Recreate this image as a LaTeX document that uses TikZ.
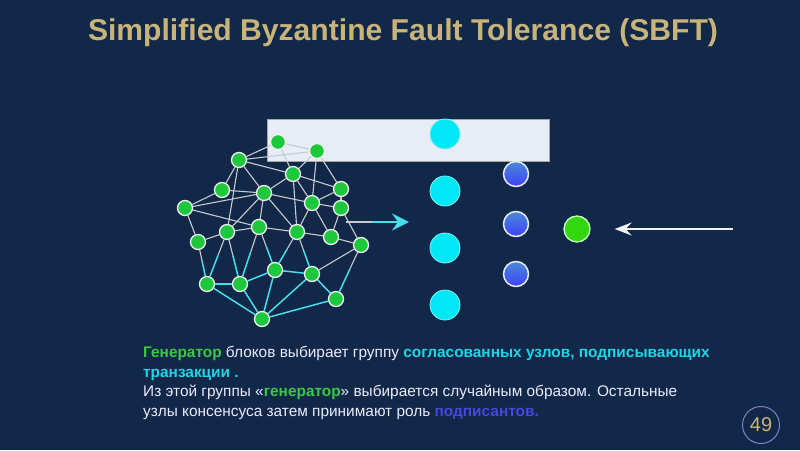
\documentclass[tikz,border=0pt]{standalone}
\usepackage{fontspec}
\setmainfont{Liberation Sans}
\usepackage{tikz}
\usetikzlibrary{arrows.meta,calc}
\definecolor{slidebg}{RGB}{17,40,72}
\definecolor{titletan}{RGB}{200,180,122}
\definecolor{peergreen}{RGB}{30,200,60}
\definecolor{linkgrey}{RGB}{200,202,208}
\definecolor{linkcyan}{RGB}{70,222,236}
\definecolor{nodecyan}{RGB}{0,232,246}
\definecolor{gengreen}{RGB}{52,214,12}
\definecolor{textgreen}{RGB}{60,200,70}
\definecolor{textcyan}{RGB}{30,214,232}
\definecolor{signblue}{RGB}{70,70,225}
\definecolor{signtop}{RGB}{72,140,215}
\definecolor{signbot}{RGB}{64,64,250}
\definecolor{boxfill}{RGB}{231,237,246}

\begin{document}
\begin{tikzpicture}[x=1pt,y=-1pt,
    peer/.style={circle, draw=white!88!gray, line width=1.3pt, fill=peergreen, minimum size=15pt, inner sep=0pt},
    link/.style={draw=linkgrey, line width=1.1pt},
    clink/.style={draw=linkcyan, line width=1.5pt},
    member/.style={circle, draw=nodecyan!50!white, line width=0.8pt, fill=nodecyan, minimum size=30pt, inner sep=0pt},
    signer/.style={circle, draw=white!92!blue, line width=1.5pt, top color=signtop, bottom color=signbot, minimum size=25pt, inner sep=0pt},
    leader/.style={circle, draw=white!80!green, line width=1.3pt, fill=gengreen, minimum size=26pt, inner sep=0pt},
    note/.style={align=left, text=white!92!blue, font=\fontsize{15.4}{19.5}\selectfont, inner sep=0pt}
]
    % Fond et cadre
    \fill[slidebg] (0,0) rectangle (800,450);
    \node[font=\bfseries\fontsize{30.1}{34}\selectfont, text=titletan] (title) at (403,33) {Simplified Byzantine Fault Tolerance (SBFT)};
    \filldraw[fill=boxfill, draw=gray!70, line width=0.8pt] (267,119) rectangle (549,161);

    % Réseau de pairs
    \node[peer] (p1) at (278,142) {};
    \node[peer] (p2) at (317,151) {};
    \node[peer] (p3) at (239,160) {};
    \node[peer] (p4) at (293,174) {};
    \node[peer] (p5) at (222,190) {};
    \node[peer] (p6) at (264,193) {};
    \node[peer] (p7) at (341,189) {};
    \node[peer] (p8) at (185,208) {};
    \node[peer] (p9) at (312,203) {};
    \node[peer] (p10) at (341,208) {};
    \node[peer] (p11) at (227,232) {};
    \node[peer] (p12) at (259,227) {};
    \node[peer] (p13) at (297,232) {};
    \node[peer] (p14) at (331,237) {};
    \node[peer] (p15) at (198,242) {};
    \node[peer] (p16) at (361,245) {};
    \node[peer] (p17) at (275,270) {};
    \node[peer] (p18) at (312,274) {};
    \node[peer] (p19) at (207,284) {};
    \node[peer] (p20) at (240,284) {};
    \node[peer] (p21) at (336,299) {};
    \node[peer] (p22) at (262,319) {};

    \foreach \a/\b in {1/2,1/3,3/2,1/4,2/4,2/9,2/7,3/5,3/6,3/11,3/4,4/6,4/7,4/9,4/13,
        5/8,5/6,8/6,8/12,8/15,6/9,6/11,6/12,6/13,9/7,9/10,9/13,9/14,7/10,10/16,10/14,
        11/15,11/12,12/13,13/14,14/16,16/18}
        \draw[link] (p\a) -- (p\b);
    \foreach \a/\b in {11/19,15/19,11/20,12/20,12/17,13/17,13/18,16/21} {
        \draw[link] (p\a) -- ($(p\a)!0.45!(p\b)$);
        \draw[clink] ($(p\a)!0.45!(p\b)$) -- (p\b);
    }
    \foreach \a/\b in {17/18,17/20,17/22,18/21,18/22,19/20,19/22,20/22,21/22}
        \draw[clink] (p\a) -- (p\b);

    % Groupe choisi
    \node[member] (c1) at (445,134) {};
    \node[member] (c2) at (445,191) {};
    \node[member] (c3) at (445,248) {};
    \node[member] (c4) at (445,305) {};
    \node[signer] (s1) at (516,174) {};
    \node[signer] (s2) at (516,224) {};
    \node[signer] (s3) at (516,274) {};
    \node[leader] (gen) at (577,229) {};

    % Flèches
    \coordinate (netout) at (346,222);
    \coordinate (netmid) at (372,222);
    \coordinate (netend) at (409,222);
    \draw[link, line width=2pt] (netout) -- (netmid);
    \draw[draw=linkcyan, line width=2pt, -{Stealth[length=17pt,width=17pt,inset=6pt]}] (netmid) -- (netend);
    \coordinate (feed) at (733,229);
    \draw[draw=white!90!gray, line width=2pt, -{Stealth[length=17pt,width=13pt,inset=6pt]}] (feed) -- ([xshift=24pt]gen.east);

    % Texte
    \node[note, anchor=north west] (txt) at (143,346) {\textcolor{textgreen}{\bfseries Генератор} блоков выбирает группу \textcolor{textcyan}{\bfseries согласованных узлов, подписывающих}\\
    \textcolor{textcyan}{\bfseries транзакции .}\\
    Из этой группы «\textcolor{textgreen}{\bfseries генератор}» выбирается случайным образом. Остальные\\
    узлы консенсуса затем принимают роль \textcolor{signblue}{\bfseries подписантов.}};

    \node[circle, draw=gray!60!blue!70!white, line width=1pt, minimum size=37pt, inner sep=0pt, text=titletan, font=\fontsize{20}{20}\selectfont] (page) at (761,425) {49};
\end{tikzpicture}
\end{document}
